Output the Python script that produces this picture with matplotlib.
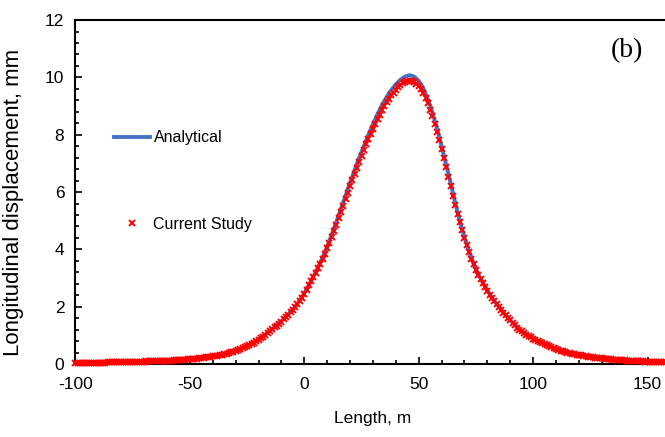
import numpy as np
import matplotlib
matplotlib.use("Agg")
import matplotlib.pyplot as plt
from matplotlib.ticker import MultipleLocator

plt.rcParams['font.family'] = ['Liberation Sans', 'DejaVu Sans']
plt.rcParams['axes.unicode_minus'] = False

# Analytical solution, sampled every 2 m along the length
length_analytical = np.arange(-100, 161, 2)
analytical = [
    0.04, 0.04, 0.04, 0.045, 0.05, 0.05, 0.05, 0.055, 0.06, 0.06,
    0.065, 0.07, 0.07, 0.075, 0.08, 0.085, 0.09, 0.095, 0.10, 0.105,
    0.11, 0.12, 0.13, 0.14, 0.155, 0.17, 0.185, 0.20, 0.22, 0.245,
    0.27, 0.30, 0.335, 0.37, 0.41, 0.46, 0.52, 0.59, 0.67, 0.76,
    0.86, 0.97, 1.09, 1.22, 1.36, 1.50, 1.66, 1.82, 2.00, 2.22,
    2.47, 2.76, 3.06, 3.38, 3.72, 4.10, 4.52, 4.96, 5.42, 5.88,
    6.33, 6.77, 7.20, 7.60, 8.00, 8.37, 8.72, 9.04, 9.32, 9.56,
    9.76, 9.92, 10.03, 10.08, 10.03, 9.88, 9.62, 9.25, 8.78, 8.22,
    7.60, 6.95, 6.30, 5.60, 4.98, 4.42, 3.92, 3.50, 3.14, 2.84,
    2.57, 2.32, 2.10, 1.90, 1.71, 1.54, 1.36, 1.21, 1.09, 0.99,
    0.90, 0.81, 0.73, 0.66, 0.59, 0.53, 0.48, 0.43, 0.39, 0.35,
    0.32, 0.29, 0.26, 0.24, 0.22, 0.20, 0.18, 0.165, 0.15, 0.14,
    0.13, 0.12, 0.11, 0.10, 0.09, 0.085, 0.08, 0.07, 0.065, 0.06,
    0.055,
]

# Current study results, every 1 m along the length
length_study = np.arange(-100, 161, 1)
current_study = [
    0.04, 0.04, 0.04, 0.04, 0.04, 0.043, 0.045, 0.048, 0.05, 0.05,
    0.05, 0.05, 0.05, 0.053, 0.055, 0.058, 0.06, 0.06, 0.06, 0.063,
    0.065, 0.068, 0.07, 0.07, 0.07, 0.073, 0.075, 0.078, 0.08, 0.083,
    0.085, 0.088, 0.09, 0.093, 0.095, 0.098, 0.10, 0.103, 0.105, 0.108,
    0.11, 0.115, 0.12, 0.125, 0.13, 0.135, 0.14, 0.145, 0.15, 0.158,
    0.165, 0.172, 0.18, 0.188, 0.195, 0.205, 0.215, 0.228, 0.24, 0.252,
    0.265, 0.28, 0.295, 0.312, 0.33, 0.347, 0.365, 0.385, 0.405, 0.43,
    0.455, 0.482, 0.51, 0.545, 0.58, 0.62, 0.66, 0.705, 0.75, 0.80,
    0.85, 0.905, 0.96, 1.02, 1.08, 1.145, 1.21, 1.275, 1.34, 1.41,
    1.48, 1.56, 1.64, 1.72, 1.80, 1.89, 1.98, 2.09, 2.20, 2.32,
    2.45, 2.59, 2.74, 2.88, 3.03, 3.18, 3.34, 3.50, 3.67, 3.85,
    4.04, 4.24, 4.44, 4.65, 4.86, 5.08, 5.30, 5.52, 5.75, 5.97,
    6.20, 6.42, 6.64, 6.85, 7.06, 7.26, 7.46, 7.66, 7.85, 8.03,
    8.21, 8.38, 8.55, 8.70, 8.85, 8.99, 9.13, 9.25, 9.37, 9.47,
    9.57, 9.65, 9.73, 9.79, 9.84, 9.87, 9.88, 9.87, 9.84, 9.78,
    9.70, 9.59, 9.46, 9.29, 9.10, 8.88, 8.65, 8.38, 8.10, 7.80,
    7.50, 7.18, 6.86, 6.54, 6.22, 5.88, 5.55, 5.24, 4.94, 4.66,
    4.39, 4.14, 3.90, 3.68, 3.48, 3.29, 3.12, 2.96, 2.82, 2.68,
    2.55, 2.42, 2.30, 2.19, 2.08, 1.98, 1.88, 1.79, 1.70, 1.61,
    1.53, 1.44, 1.35, 1.27, 1.20, 1.14, 1.08, 1.03, 0.98, 0.935,
    0.89, 0.845, 0.80, 0.76, 0.72, 0.685, 0.65, 0.615, 0.58, 0.55,
    0.52, 0.495, 0.47, 0.445, 0.42, 0.40, 0.38, 0.362, 0.345, 0.33,
    0.315, 0.30, 0.285, 0.27, 0.255, 0.245, 0.235, 0.225, 0.215, 0.205,
    0.195, 0.185, 0.175, 0.168, 0.16, 0.152, 0.145, 0.14, 0.135, 0.13,
    0.125, 0.12, 0.115, 0.11, 0.105, 0.10, 0.095, 0.092, 0.09, 0.085,
    0.08, 0.078, 0.075, 0.072, 0.07, 0.068, 0.065, 0.062, 0.06, 0.058,
    0.055,
]

x_ticks = [-100, -50, 0, 50, 100, 150]
y_ticks = [0, 2, 4, 6, 8, 10, 12]

fig = plt.figure(figsize=(6.65, 4.37), dpi=100)
ax = fig.add_axes([0.1135, 0.167, 0.8947, 0.787])

ax.plot(length_analytical, analytical, color='#4472C4', lw=2.8,
        label='Analytical', zorder=2)
ax.plot(length_study, current_study, ls='none', marker='x', color='#FF0000',
        ms=4.8, mew=1.4, label='Current Study', zorder=3, clip_on=False)

ax.set_xlim(-100, 160)
ax.set_ylim(0, 12)
ax.set_xticks(x_ticks)
ax.set_yticks(y_ticks)
ax.xaxis.set_minor_locator(MultipleLocator(10))
ax.yaxis.set_minor_locator(MultipleLocator(0.4))
ax.tick_params(which='both', direction='in', labelsize=12.5, width=1.2,
               top=False, right=False)
ax.tick_params(which='major', length=5)
ax.tick_params(which='minor', length=3)
ax.tick_params(axis='x', pad=9)
ax.tick_params(axis='y', pad=8)
for s in ax.spines.values():
    s.set_linewidth(1.5)
ax.spines['right'].set_visible(False)

ax.set_xlabel('Length, m', fontsize=12.5, labelpad=14)
ax.set_ylabel('Longitudinal displacement, mm', fontsize=16)
ax.yaxis.set_label_coords(-0.086, 0.47)

ax.text(141, 10.95, '(b)', fontsize=20, family=['Liberation Serif', 'DejaVu Serif'],
        ha='center', va='center')

leg = ax.legend(loc='upper left', bbox_to_anchor=(0.064, 0.68), frameon=False,
                fontsize=11.5, handlelength=2.3, handletextpad=0.2,
                labelspacing=4.5, borderpad=0, borderaxespad=0)

fig.savefig('out.png', dpi=100)
